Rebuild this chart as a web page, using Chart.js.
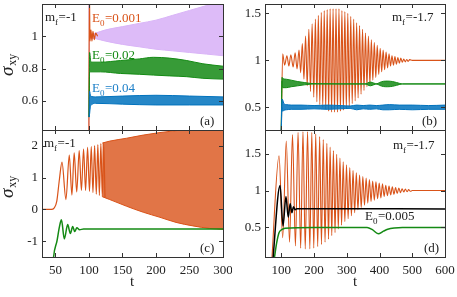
<!DOCTYPE html>
<html>
<head>
<meta charset="utf-8">
<script src="https://cdn.jsdelivr.net/npm/chart.js@4.4.0/dist/chart.umd.min.js"></script>
<style>
  html, body { margin: 0; padding: 0; background: #fff; }
  #wrap { position: relative; width: 457px; height: 297px; overflow: hidden; }
  canvas { position: absolute; }
</style>
</head>
<body>
<div id="wrap">
  <canvas id="pa" width="232" height="131" style="left:0;top:0;width:232px;height:131px"></canvas>
  <canvas id="pc" width="232" height="167" style="left:0;top:130px;width:232px;height:167px"></canvas>
  <canvas id="pb" width="232" height="131" style="left:225px;top:0;width:232px;height:131px"></canvas>
  <canvas id="pd" width="232" height="167" style="left:225px;top:130px;width:232px;height:167px"></canvas>
</div>
<script>
// sigma_xy vs t, four panels. Dense oscillations are kept as upper/lower envelopes,
// resolved ones as lists of successive maxima/minima.

const ORANGE = '#D95319', GREEN = '#148a14', BLUE = '#0072BD', PURPLE = '#d9b4f7';

// ---- panel (a): m_f=-1, E0 = 0.001 / 0.02 / 0.04
const aTicksX = [50, 100, 150, 200, 250, 300];
const aTicksY = [0.6, 0.8, 1];
const aPurT  = [99.6, 101, 110, 125, 150, 175, 200, 225, 250, 275, 300];
const aPurHi = [1.25, 1.01, 1.02, 1.04, 1.06, 1.08, 1.1, 1.13, 1.16, 1.19, 1.22];
const aPurLo = [0.3, 0.99, 0.985, 0.97, 0.95, 0.935, 0.92, 0.91, 0.9, 0.89, 0.88];
const aOrT = [99.9, 100.6, 101.6, 103, 104.5, 106, 108, 110, 113];
const aOrV = [0.3, 1.3, 0.97, 1.04, 0.97, 1.03, 0.98, 1.02, 1.0];
const aGrT  = [100.2, 101, 103, 117, 147, 175, 196, 220, 246, 270, 300];
const aGrHi = [0.5, 0.9, 0.84, 0.84, 0.85, 0.86, 0.87, 0.865, 0.85, 0.83, 0.815];
const aGrLo = [0.5, 0.78, 0.78, 0.78, 0.77, 0.765, 0.76, 0.755, 0.75, 0.74, 0.735];
const aBlT  = [100.3, 101, 102.5, 110, 150, 200, 250, 300];
const aBlHi = [0.5, 0.66, 0.63, 0.625, 0.63, 0.635, 0.63, 0.625];
const aBlLo = [0.5, 0.52, 0.57, 0.585, 0.58, 0.575, 0.575, 0.575];

// ---- panel (c): m_f=-1
const cTicksY = [-1, 0, 1, 2];
const cOrT = [30, 44, 48, 52, 56, 59.8, 65.7, 70.7, 74.6, 78, 81.8, 85.5, 88.8, 92, 95, 98, 100.8, 103.5, 106, 108.5, 111, 113.3, 115.6, 117.8, 120, 122, 124];
const cOrV = [0, 0, 0.04, 0.25, 0.95, 1.49, 0.31, 1.71, 0.45, 1.78, 0.55, 1.85, 0.6, 1.9, 0.6, 1.95, 0.57, 1.98, 0.53, 2.01, 0.48, 2.04, 0.44, 2.07, 0.4, 2.09, 0.37];
const cBandT  = [120, 131, 156, 181, 206, 230, 255, 280, 300];
const cBandHi = [2.09, 2.15, 2.24, 2.34, 2.42, 2.48, 2.53, 2.57, 2.6];
const cBandLo = [0.4, 0.31, 0.1, -0.09, -0.25, -0.41, -0.52, -0.6, -0.63];
const cGrT = [44, 47.3, 52.3, 56, 59, 63.3, 68.3, 72.3, 75.8, 78.8, 82, 86, 92, 300];
const cGrV = [-2.6, -1.5, -1.0, -0.55, -0.33, -0.93, -0.48, -0.76, -0.54, -0.7, -0.58, -0.64, -0.62, -0.62];

// ---- panel (b): m_f=-1.7
const bTicksX = [100, 200, 300, 400, 500, 600];
const bTicksY = [0.5, 1, 1.5];
const bOrT = [99, 104, 110, 117, 123, 129, 136, 142, 148, 154, 159, 164, 169, 174, 179, 184, 189, 194, 199, 204,
  208.5, 213, 217.5, 222, 226.5, 231, 235.5, 240, 244.5, 249, 253.5, 258, 262.5, 267, 271.5, 276, 280.5, 285, 289.5, 294,
  298.5, 303, 307.5, 312, 316.5, 321, 325.5, 330, 334.5, 339, 343.5, 348, 352.5, 357, 361.5, 366, 370.5, 375, 379.5, 384,
  388.5, 393, 397.5, 402, 406.5, 411, 415.5, 420, 424.5, 429, 433.5, 438, 442.5, 447, 451.5, 456, 460.5, 465, 469.5, 474,
  478.5, 483, 487.5, 492, 500, 600];
const bOrV = [0.0, 1.07, 0.95, 1.05, 0.94, 1.06, 0.93, 1.08, 0.91, 1.11, 0.87, 1.18, 0.8, 1.26, 0.73, 1.33, 0.67, 1.39, 0.61, 1.44,
  0.56, 1.48, 0.53, 1.51, 0.5, 1.53, 0.48, 1.54, 0.46, 1.55, 0.45, 1.55, 0.45, 1.55, 0.45, 1.55, 0.46, 1.53, 0.47, 1.52,
  0.49, 1.5, 0.51, 1.47, 0.54, 1.44, 0.57, 1.4, 0.6, 1.37, 0.64, 1.33, 0.68, 1.29, 0.72, 1.26, 0.75, 1.22, 0.79, 1.19,
  0.82, 1.16, 0.85, 1.13, 0.88, 1.11, 0.9, 1.09, 0.92, 1.07, 0.94, 1.05, 0.95, 1.04, 0.96, 1.03, 0.97, 1.025, 0.98, 1.015,
  0.985, 1.01, 0.99, 1.008, 1.0, 1.0];
const bGrT  = [99.5, 102, 104, 115, 130, 150, 170, 190, 210, 355, 372, 383, 392, 400, 412, 425, 440, 452, 462, 470, 600];
const bGrHi = [0.2, 0.82, 0.81, 0.8, 0.79, 0.775, 0.765, 0.755, 0.752, 0.75, 0.77, 0.758, 0.752, 0.765, 0.778, 0.78, 0.775, 0.765, 0.755, 0.75, 0.75];
const bGrLo = [0.2, 0.78, 0.71, 0.71, 0.72, 0.73, 0.74, 0.748, 0.75, 0.75, 0.73, 0.742, 0.748, 0.735, 0.722, 0.72, 0.725, 0.735, 0.745, 0.75, 0.75];
const bBlT  = [99.5, 102, 104, 108, 115, 130, 160, 200, 240, 280, 310, 330, 350, 370, 390, 410, 430, 460, 500, 550, 600];
const bBlHi = [0.2, 0.59, 0.58, 0.54, 0.53, 0.525, 0.525, 0.52, 0.525, 0.52, 0.515, 0.525, 0.52, 0.525, 0.52, 0.525, 0.53, 0.525, 0.525, 0.52, 0.525];
const bBlLo = [0.2, 0.5, 0.46, 0.47, 0.475, 0.48, 0.48, 0.485, 0.48, 0.485, 0.49, 0.475, 0.485, 0.48, 0.485, 0.475, 0.475, 0.48, 0.475, 0.48, 0.48];

// ---- panel (d): m_f=-1.7, E0 = 0.005 in black
const dOrT = [70, 93, 104, 115, 125, 134, 143, 151, 159, 166, 173, 180, 187, 193, 199, 205, 211, 217, 222.5, 228,
  233.5, 239, 244, 249, 254, 259, 264, 269, 274, 279, 284, 289, 294, 299, 304, 309, 314, 319, 324, 329,
  334, 339, 344, 349, 354, 359, 364, 369, 374, 379, 384, 389, 394, 399, 404, 409, 414, 419, 424, 429,
  434, 439, 444, 449, 454, 459, 464, 469, 474, 479, 484, 489, 494, 500, 600];
const dOrV = [0.0, 1.47, 0.36, 1.67, 0.3, 1.76, 0.25, 1.79, 0.22, 1.8, 0.21, 1.8, 0.21, 1.79, 0.22, 1.77, 0.24, 1.73, 0.27, 1.69,
  0.3, 1.64, 0.34, 1.59, 0.39, 1.54, 0.43, 1.49, 0.48, 1.44, 0.53, 1.39, 0.58, 1.35, 0.62, 1.31, 0.66, 1.27, 0.7, 1.24,
  0.74, 1.21, 0.77, 1.19, 0.8, 1.17, 0.83, 1.15, 0.85, 1.13, 0.87, 1.12, 0.89, 1.1, 0.9, 1.09, 0.92, 1.07, 0.93, 1.06,
  0.94, 1.05, 0.95, 1.04, 0.96, 1.035, 0.97, 1.025, 0.98, 1.02, 0.985, 1.012, 0.99, 1.0, 1.0];
const dBkT = [73, 96, 105, 114, 121, 127, 132, 137, 142, 147, 600];
const dBkV = [0.0, 1.07, 0.52, 0.92, 0.64, 0.82, 0.7, 0.78, 0.74, 0.755, 0.75];
const dGrT = [76, 85.6, 92.8, 101, 111, 200, 362, 378, 396, 412, 425, 445, 470, 600];
const dGrV = [0.0, 0.29, 0.43, 0.47, 0.49, 0.5, 0.5, 0.47, 0.415, 0.45, 0.475, 0.492, 0.5, 0.5];

const FONT = '"Liberation Serif", "DejaVu Serif", serif';
Chart.defaults.font.family = FONT;
Chart.defaults.font.size = 13;
Chart.defaults.color = '#222';

const pts = (T, V) => T.map((t, i) => ({ x: t, y: V[i] }));

function line(T, V, color, w, order) {
  return { data: pts(T, V), borderColor: color, borderWidth: w, pointRadius: 0, fill: false,
           cubicInterpolationMode: 'monotone', order, clip: 0 };
}
// two datasets: upper edge filled down to the lower edge
function band(T, hi, lo, color, fillColor, order) {
  return [
    { data: pts(T, hi), borderColor: color, borderWidth: 1, pointRadius: 0, fill: '+1',
      backgroundColor: fillColor, cubicInterpolationMode: 'monotone', order, clip: 0 },
    { data: pts(T, lo), borderColor: color, borderWidth: 1, pointRadius: 0, fill: false,
      cubicInterpolationMode: 'monotone', order, clip: 0 }
  ];
}

function subText(ctx, x, y, base, sub, tail, color) {
  ctx.fillStyle = color;
  ctx.textAlign = 'left'; ctx.textBaseline = 'alphabetic';
  ctx.font = '13px ' + FONT;
  ctx.fillText(base, x, y);
  x += ctx.measureText(base).width;
  ctx.font = '9px ' + FONT;
  ctx.fillText(sub, x, y + 3.5);
  x += ctx.measureText(sub).width + 0.5;
  ctx.font = '13px ' + FONT;
  ctx.fillText(tail, x, y);
}

function deco(o) {
  return {
    id: 'deco',
    afterDatasetsDraw(chart) {
      const { ctx, chartArea: a, scales: { x, y } } = chart;
      ctx.save();
      ctx.strokeStyle = '#333'; ctx.lineWidth = 1;
      ctx.strokeRect(a.left + 0.5, a.top + 0.5, a.right - a.left, a.bottom - a.top);
      ctx.beginPath();
      o.xTicks.forEach(v => {
        const p = Math.round(x.getPixelForValue(v)) + 0.5;
        ctx.moveTo(p, a.bottom); ctx.lineTo(p, a.bottom - 4);
        ctx.moveTo(p, a.top); ctx.lineTo(p, a.top + 4);
      });
      o.yTicks.forEach(v => {
        const p = Math.round(y.getPixelForValue(v)) + 0.5;
        ctx.moveTo(a.left, p); ctx.lineTo(a.left + 4, p);
        ctx.moveTo(a.right, p); ctx.lineTo(a.right - 4, p);
      });
      ctx.stroke();
      o.texts.forEach(t => {
        if (t.sub) subText(ctx, t.x, t.y, t.base, t.sub, t.tail, t.color);
        else { ctx.fillStyle = t.color; ctx.font = '13px ' + FONT; ctx.textAlign = 'left'; ctx.fillText(t.base, t.x, t.y); }
      });
      if (o.sigma) {
        ctx.save();
        ctx.translate(o.sigma.x, o.sigma.y);
        ctx.rotate(-Math.PI / 2);
        ctx.fillStyle = '#222';
        ctx.textAlign = 'left'; ctx.textBaseline = 'alphabetic';
        ctx.font = 'italic 19px ' + FONT;
        ctx.fillText('σ', 0, 0);
        const w = ctx.measureText('σ').width;
        ctx.font = '12px ' + FONT;
        ctx.fillText('xy', w + 1, 3);
        ctx.restore();
      }
      if (o.tTitle) {
        ctx.fillStyle = '#222'; ctx.font = '15px ' + FONT; ctx.textAlign = 'center';
        ctx.fillText('t', o.tTitle.x, o.tTitle.y);
      }
      ctx.restore();
    }
  };
}

// drop the half-label padding Chart.js reserves, so the plot areas line up exactly
const noPad = s => { s.paddingTop = 0; s.paddingBottom = 0; s.paddingLeft = 0; s.paddingRight = 0; };

function makeChart(id, o) {
  return new Chart(document.getElementById(id), {
    type: 'line',
    data: { datasets: o.datasets },
    options: {
      responsive: false, animation: false, devicePixelRatio: 1,
      layout: { padding: o.pad },
      plugins: { legend: { display: false }, tooltip: { enabled: false } },
      scales: {
        x: {
          type: 'linear', min: o.xMin, max: o.xMax,
          afterBuildTicks: s => { s.ticks = o.xTicks.map(v => ({ value: v })); },
          afterFit: s => { s.height = o.xH; noPad(s); },
          ticks: { display: o.xLabels, padding: 6, maxRotation: 0, autoSkip: false, callback: v => String(v) },
          grid: { display: false, drawTicks: false }, border: { display: false }
        },
        y: {
          type: 'linear', min: o.yMin, max: o.yMax,
          afterBuildTicks: s => { s.ticks = o.yTicks.map(v => ({ value: v })); },
          afterFit: s => { s.width = o.yW; noPad(s); },
          ticks: { padding: 4, autoSkip: false, callback: v => String(v) },
          grid: { display: false, drawTicks: false }, border: { display: false }
        }
      }
    },
    plugins: [deco(o)]
  });
}

makeChart('pa', {
  xMin: 30, xMax: 300, yMin: 0.42, yMax: 1.2, xTicks: aTicksX, yTicks: aTicksY,
  xLabels: false, xH: 0, yW: 42, pad: { top: 4, right: 9, bottom: 1, left: 0 },
  datasets: [
    ...band(aBlT, aBlHi, aBlLo, BLUE, 'rgba(0,114,189,0.85)', 1),
    ...band(aGrT, aGrHi, aGrLo, GREEN, 'rgba(20,138,20,0.85)', 2),
    line(aOrT, aOrV, ORANGE, 1.2, 3),
    ...band(aPurT, aPurHi, aPurLo, PURPLE, 'rgba(217,180,247,0.9)', 4)
  ],
  texts: [
    { x: 45, y: 21, base: 'm', sub: 'f', tail: '=-1', color: '#222' },
    { x: 92, y: 22, base: 'E', sub: '0', tail: '=0.001', color: ORANGE },
    { x: 92, y: 59, base: 'E', sub: '0', tail: '=0.02', color: GREEN },
    { x: 92, y: 92, base: 'E', sub: '0', tail: '=0.04', color: '#1f80c8' },
    { x: 200, y: 125, base: '(a)', color: '#222' }
  ],
  sigma: { x: 13, y: 76 }
});

makeChart('pc', {
  xMin: 30, xMax: 300, yMin: -1.5, yMax: 2.5, xTicks: aTicksX, yTicks: cTicksY,
  xLabels: true, xH: 40, yW: 42, pad: { top: 0, right: 9, bottom: 0, left: 0 },
  datasets: [
    line(cGrT, cGrV, GREEN, 1.5, 1),
    line(cOrT, cOrV, ORANGE, 1.2, 2),
    ...band(cBandT, cBandHi, cBandLo, ORANGE, 'rgba(217,83,25,0.8)', 3)
  ],
  texts: [
    { x: 44, y: 17, base: 'm', sub: 'f', tail: '=-1', color: '#222' },
    { x: 200, y: 122, base: '(c)', color: '#222' }
  ],
  sigma: { x: 13, y: 68 },
  tTitle: { x: 132, y: 156 }
});

makeChart('pb', {
  xMin: 50, xMax: 600, yMin: 0.26, yMax: 1.6, xTicks: bTicksX, yTicks: bTicksY,
  xLabels: false, xH: 0, yW: 40, pad: { top: 4, right: 12, bottom: 1, left: 0 },
  datasets: [
    ...band(bBlT, bBlHi, bBlLo, BLUE, 'rgba(0,114,189,0.85)', 1),
    ...band(bGrT, bGrHi, bGrLo, GREEN, 'rgba(20,138,20,0.85)', 2),
    line(bOrT, bOrV, ORANGE, 1.1, 3)
  ],
  texts: [
    { x: 167, y: 21, base: 'm', sub: 'f', tail: '=-1.7', color: '#222' },
    { x: 197, y: 125, base: '(b)', color: '#222' }
  ]
});

makeChart('pd', {
  xMin: 50, xMax: 600, yMin: 0.1, yMax: 1.82, xTicks: bTicksX, yTicks: bTicksY,
  xLabels: true, xH: 40, yW: 40, pad: { top: 0, right: 12, bottom: 0, left: 0 },
  datasets: [
    line(dBkT, dBkV, '#000', 1.5, 1),
    line(dGrT, dGrV, GREEN, 1.5, 2),
    line(dOrT, dOrV, ORANGE, 1.1, 3)
  ],
  texts: [
    { x: 168, y: 19, base: 'm', sub: 'f', tail: '=-1.7', color: '#222' },
    { x: 140, y: 90, base: 'E', sub: '0', tail: '=0.005', color: '#222' },
    { x: 199, y: 122, base: '(d)', color: '#222' }
  ],
  tTitle: { x: 130, y: 156 }
});
</script>
</body>
</html>
